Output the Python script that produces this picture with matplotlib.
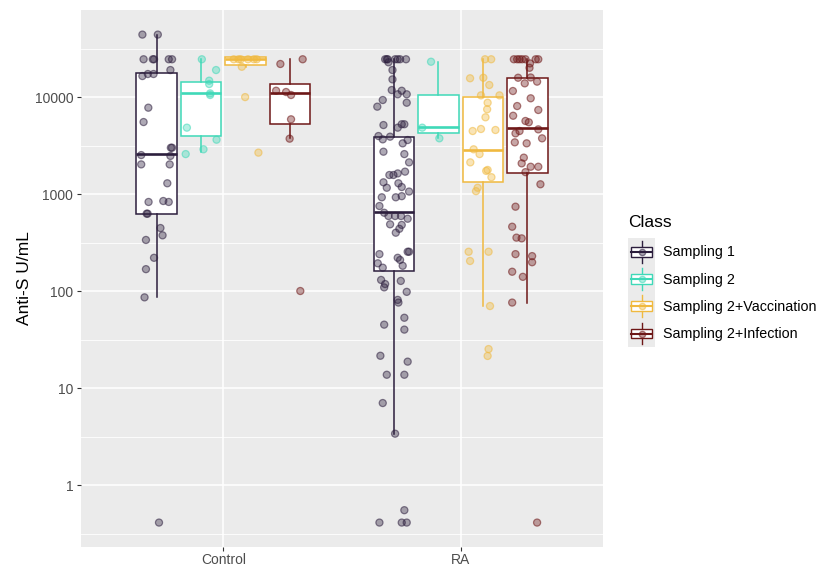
import matplotlib
matplotlib.use("Agg")
import matplotlib.pyplot as plt
from matplotlib.patches import Rectangle, Patch
from matplotlib.lines import Line2D
from matplotlib.legend_handler import HandlerBase
from matplotlib.ticker import FixedLocator, NullFormatter
from matplotlib.colors import to_rgba

plt.rcParams['font.family'] = ['Liberation Sans', 'DejaVu Sans']

# ---------------- data ----------------
groups = ["Control", "RA"]
classes = ["Sampling 1", "Sampling 2", "Sampling 2+Vaccination", "Sampling 2+Infection"]
colors = ["#2c1e3d", "#3fd9b8", "#f0b93f", "#6e1717"]

# box statistics [group][class]
whislo = [[86, 2690, 20500, 3750], [3.38, 3750, 70, 76]]
q1 = [[622, 3940, 21200, 5240], [162, 4300, 1330, 1660]]
med = [[2570, 11080, 24800, 11080], [652, 4850, 2840, 4760]]
q3 = [[17500, 14400, 25600, 13610], [3900, 10500, 10000, 15600]]
whishi = [[44000, 24500, 25600, 24500], [24500, 23100, 24500, 24500]]

ctrl_s1_vals = [44000, 44000, 24500, 24500, 24500, 24500, 24500, 18970, 16450, 17260, 17260,
                7760, 5520, 3000, 3000, 2520, 2470, 2020, 2020, 1290, 828, 847, 828, 627, 627,
                446, 375, 336, 220, 168, 86, 0.41]
ctrl_s1_jit = [-0.060, 0.005, -0.055, -0.016, -0.011, 0.051, 0.065, 0.058, -0.060, -0.037, -0.013,
               -0.035, -0.055, 0.060, 0.065, -0.065, 0.058, -0.065, 0.055, 0.045, -0.034, 0.028, 0.051,
               -0.042, -0.038, 0.016, 0.025, -0.045, -0.011, -0.045, -0.051, 0.010]

ctrl_s2_vals = [24500, 18970, 14730, 13610, 10900, 10490, 4830, 3630, 2890, 2580]
ctrl_s2_jit = [0.003, 0.063, 0.034, 0.034, 0.038, 0.038, -0.060, 0.065, 0.010, -0.065]

ctrl_vac_vals = [24500, 24500, 24500, 24500, 24500, 24500, 20500, 9980, 2670]
ctrl_vac_jit = [-0.050, -0.030, -0.020, 0.010, 0.035, 0.047, -0.016, -0.002, 0.054]

ctrl_inf_vals = [24500, 21900, 11610, 11260, 10490, 5890, 3720, 100]
ctrl_inf_jit = [0.053, -0.041, -0.059, -0.017, 0.004, 0.004, -0.002, 0.043]

ra_s1_vals = [24500, 24500, 24500, 24500, 24500, 24500, 24500, 22800, 18970, 15200, 11800, 11600,
              10670, 10670, 8730, 9310, 7950, 5140, 5240, 5240, 4830, 3960, 3900, 3660, 3330, 3600,
              2730, 2580, 2120, 1570, 1570, 1630, 1700, 1320, 1290, 1160, 1180, 1060, 925, 925, 950,
              752, 641, 593, 593, 593, 556, 487, 480, 438, 399, 254, 254, 240, 220, 209, 193, 182,
              174, 130, 118, 127, 109, 98, 81, 76, 53, 45, 40, 21.5, 18.7, 13.7, 13.7, 7.0, 3.38,
              0.55, 0.41, 0.41, 0.41]
ra_s1_jit = [-0.037, -0.026, 0.005, 0.016, 0.026, 0.051, -0.030, -0.023, -0.006, -0.006, -0.009, 0.033,
             0.016, 0.054, 0.054, -0.047, -0.070, -0.044, 0.033, 0.044, 0.016, -0.065, -0.016, -0.047,
             0.037, 0.058, -0.044, 0.044, 0.064, -0.019, -0.002, 0.016, 0.047, -0.044, 0.019, -0.030,
             0.033, 0.064, -0.051, 0.008, 0.033, -0.061, -0.041, -0.023, 0.005, 0.030, 0.058, -0.016,
             0.033, 0.023, 0.008, 0.058, 0.064, -0.061, 0.016, 0.026, -0.068, 0.037, -0.047, -0.054,
             -0.037, 0.029, -0.041, 0.054, 0.016, 0.019, 0.044, -0.041, 0.044, -0.057, 0.058, -0.030,
             0.044, -0.047, 0.005, 0.044, -0.061, 0.033, 0.054]

ra_s2_vals = [23100, 4830, 3750]
ra_s2_jit = [-0.031, -0.068, 0.004]

ra_vac_vals = [24500, 24500, 15600, 15800, 13300, 10400, 10400, 8730, 7470, 6180, 4460, 4680, 4570,
               2890, 2580, 2120, 1770, 1730, 1490, 1160, 1070, 254, 254, 204, 70, 25.2, 21.4]
ra_vac_jit = [0.009, 0.035, -0.054, 0.002, 0.027, -0.008, 0.070, 0.020, 0.018, 0.011, -0.043, -0.008,
              0.053, -0.039, -0.014, -0.053, 0.020, 0.014, 0.036, -0.022, -0.029, -0.060, 0.024,
              -0.054, 0.030, 0.024, 0.020]

ra_inf_vals = [24500, 24500, 24500, 24500, 24500, 24500, 24500, 22200, 20000, 15800, 15900, 13830,
               14400, 11530, 9700, 8070, 7350, 6410, 5660, 5490, 4460, 4220, 4640, 3750, 3410, 3330,
               2370, 2070, 1910, 1910, 1680, 1260, 740, 460, 355, 349, 240, 229, 198, 158, 140, 76, 0.41]
ra_inf_jit = [-0.057, -0.043, -0.033, -0.022, -0.008, 0.035, 0.046, 0.011, 0.009, -0.039, 0.014, -0.011,
              0.041, -0.061, 0.014, -0.043, 0.046, -0.060, -0.008, 0.006, -0.033, -0.050, 0.046, 0.062,
              -0.053, -0.003, -0.015, -0.024, 0.014, 0.046, -0.008, 0.055, -0.050, -0.064, -0.046,
              -0.024, -0.050, 0.020, 0.020, -0.064, -0.019, -0.064, 0.041]

points = [[(ctrl_s1_vals, ctrl_s1_jit), (ctrl_s2_vals, ctrl_s2_jit),
           (ctrl_vac_vals, ctrl_vac_jit), (ctrl_inf_vals, ctrl_inf_jit)],
          [(ra_s1_vals, ra_s1_jit), (ra_s2_vals, ra_s2_jit),
           (ra_vac_vals, ra_vac_jit), (ra_inf_vals, ra_inf_jit)]]

ytick_vals = [1, 10, 100, 1000, 10000]
ytick_labels = ["1", "10", "100", "1000", "10000"]

# ---------------- figure ----------------
W, H = 818, 566
fig = plt.figure(figsize=(W / 100, H / 100), dpi=100)
ax = fig.add_axes([81 / W, 1 - 546.7 / H, 522 / W, (546.7 - 10) / H])
ax.set_facecolor("#ebebeb")
for s in ax.spines.values():
    s.set_visible(False)

dodge = 0.1875
bw = 0.17
for gi in range(len(groups)):
    for ci in range(len(classes)):
        pos = gi + 1 + (ci - 1.5) * dodge
        c = colors[ci]
        st = [dict(med=med[gi][ci], q1=q1[gi][ci], q3=q3[gi][ci],
                   whislo=whislo[gi][ci], whishi=whishi[gi][ci], fliers=[])]
        ax.bxp(st, positions=[pos], widths=bw, patch_artist=True, showfliers=False,
               showcaps=False,
               boxprops=dict(facecolor="white", edgecolor=c, linewidth=1.1),
               whiskerprops=dict(color=c, linewidth=1.1),
               medianprops=dict(color=c, linewidth=1.9, solid_capstyle="butt"),
               zorder=2)
        vals, jit = points[gi][ci]
        xs = [pos + j for j in jit]
        ax.scatter(xs, vals, s=26, facecolors=[to_rgba(c, 0.38)] * len(vals),
                   edgecolors=[to_rgba(c, 0.55)] * len(vals), linewidths=0.9, zorder=3)

ax.set_yscale("log")
ax.set_ylim(10 ** -0.636, 10 ** 4.897)
ax.set_xlim(0.4, 2.6)
ax.set_xticks([1, 2])
ax.set_xticklabels(groups)
ax.yaxis.set_major_locator(FixedLocator(ytick_vals))
ax.set_yticklabels(ytick_labels)
ax.yaxis.set_minor_locator(FixedLocator([10 ** (k + 0.5) for k in range(-1, 5)]))
ax.yaxis.set_minor_formatter(NullFormatter())
ax.tick_params(axis="both", which="major", length=3, width=0.8, color="#333333",
               labelcolor="#4d4d4d", labelsize=10, pad=2.5)
ax.tick_params(axis="x", which="major", pad=1.5)
ax.tick_params(axis="y", which="minor", length=0)
ax.set_axisbelow(True)
ax.grid(which="major", color="white", linewidth=1.1)
ax.grid(which="minor", axis="y", color="white", linewidth=0.6)
ax.set_ylabel("Anti-S U/mL", fontsize=12.5, color="black")
ax.yaxis.set_label_coords(-0.094, 0.5)


class BoxKey(HandlerBase):
    def create_artists(self, legend, orig_handle, xdescent, ydescent, width, height, fontsize, trans):
        c = orig_handle.get_edgecolor()
        x0, y0 = -xdescent, -ydescent
        bg = Rectangle((x0, y0), width, height, fc="#ebebeb", ec="none", transform=trans)
        kw, kh = width * 0.76, height * 0.36
        bx, by = x0 + (width - kw) / 2, y0 + (height - kh) / 2
        cx = x0 + width / 2
        w1 = Line2D([cx, cx], [y0 + height * 0.1, by], color=c, lw=1.0, transform=trans)
        w2 = Line2D([cx, cx], [by + kh, y0 + height * 0.9], color=c, lw=1.0, transform=trans)
        box = Rectangle((bx, by), kw, kh, fc="white", ec=c, lw=1.0, transform=trans)
        m = Line2D([bx, bx + kw], [y0 + height / 2] * 2, color=c, lw=1.5, transform=trans)
        dot = Line2D([cx], [y0 + height / 2], marker="o", ms=4.5, ls="none",
                     mfc=to_rgba(c, 0.4), mec=to_rgba(c, 0.55), transform=trans)
        return [bg, w1, w2, box, m, dot]


handles = [Patch(facecolor="white", edgecolor=colors[i], label=classes[i]) for i in range(len(classes))]
leg = fig.legend(handles=handles, handler_map={Patch: BoxKey()}, loc="upper left",
                 bbox_to_anchor=(628 / W, 1 - 215 / H), frameon=False, title="Class",
                 fontsize=10.3, title_fontsize=12.5, handlelength=1.9, handleheight=2.55,
                 labelspacing=0.0, handletextpad=0.55, borderpad=0, borderaxespad=0,
                 alignment="left")
leg._legend_box.sep = 6

fig.savefig("out.png", dpi=100)
